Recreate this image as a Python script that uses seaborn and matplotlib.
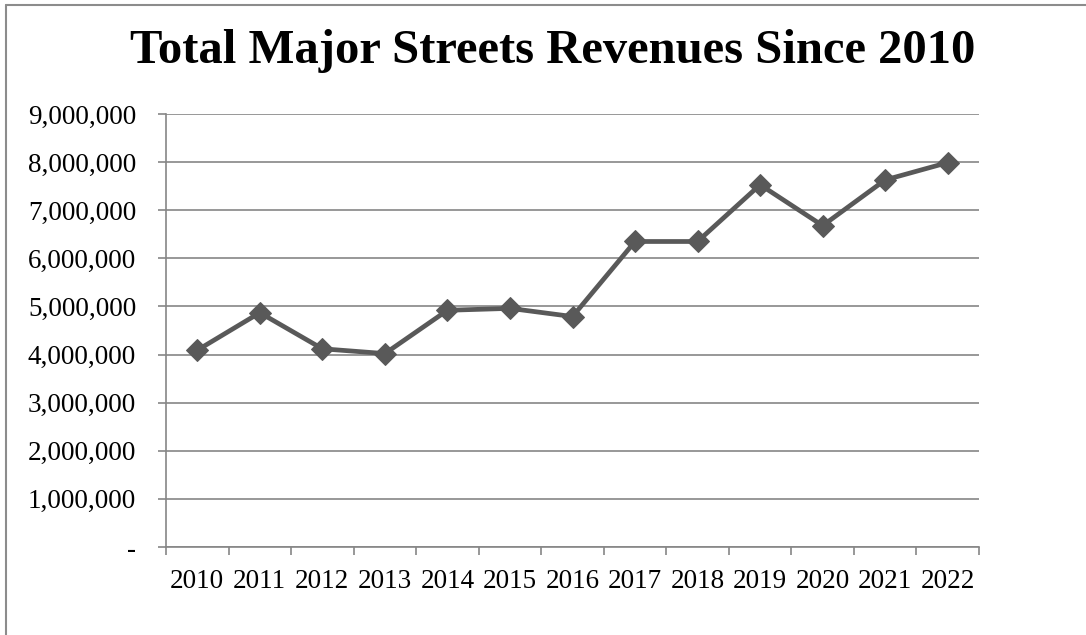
import matplotlib
matplotlib.use("Agg")
import matplotlib.pyplot as plt
from matplotlib.lines import Line2D
import seaborn as sns
import pandas as pd

years = ["2010", "2011", "2012", "2013", "2014", "2015", "2016",
         "2017", "2018", "2019", "2020", "2021", "2022"]
revenues = [4090000, 4870000, 4120000, 4020000, 4920000, 4960000, 4790000,
            6350000, 6350000, 7530000, 6680000, 7630000, 7990000]
y_ticks = [0, 1000000, 2000000, 3000000, 4000000, 5000000, 6000000,
           7000000, 8000000, 9000000]
title = "Total Major Streets Revenues Since 2010"

sns.set_theme(style="white")
plt.rcParams['font.family'] = ['Liberation Serif', 'DejaVu Serif']

df = pd.DataFrame({"year": years, "revenue": revenues})
df["pos"] = range(len(years))

fig = plt.figure(figsize=(10.86, 6.35), dpi=100)
ax = fig.add_axes([166/1086, 1 - 547/635, (979-166)/1086, (547-114)/635])

grid_c = "#868686"
line_c = "#595959"

sns.lineplot(data=df, x="pos", y="revenue", ax=ax, color=line_c,
             linewidth=3.4, marker="D", markersize=11.5,
             markeredgecolor=line_c, markerfacecolor=line_c, zorder=3)

ax.set_xlim(-0.5, len(years) - 0.5)
ax.set_ylim(0, 9000000)
ax.set_yticks(y_ticks)
ax.set_yticklabels(["-" if v == 0 else f"{v:,}" for v in y_ticks])
ax.set_xticks(range(len(years)))
ax.set_xticklabels(years)
ax.set_xticks([i - 0.5 for i in range(len(years) + 1)], minor=True)
ax.tick_params(axis="x", which="major", length=0, pad=16, labelsize=19.5, colors="black")
ax.tick_params(axis="x", which="minor", length=6, width=1.2, color=grid_c, direction="out", bottom=True)
ax.tick_params(axis="y", which="major", length=6, width=1.2, color=grid_c, direction="out",
               pad=15.5, labelsize=19.5, left=True, labelcolor="black")
ax.set_xlabel("")
ax.set_ylabel("")

ax.yaxis.grid(True, color=grid_c, linewidth=1.2)
ax.xaxis.grid(False)
for s in ["top", "right"]:
    ax.spines[s].set_visible(False)
for s in ["left", "bottom"]:
    ax.spines[s].set_color(grid_c)
    ax.spines[s].set_linewidth(1.2)

fig.text(553/1086, 1 - 51/635, title, ha="center", va="center",
         fontsize=35, fontweight="bold", color="black")

# outer chart border (top and left visible)
fig.add_artist(Line2D([6/1086, 6/1086], [0, 1 - 5/635], transform=fig.transFigure,
                      color="#8c8c8c", linewidth=1.5))
fig.add_artist(Line2D([6/1086, 1], [1 - 5/635, 1 - 5/635], transform=fig.transFigure,
                      color="#8c8c8c", linewidth=1.5))

fig.savefig("out.png", dpi=100, facecolor="white")
